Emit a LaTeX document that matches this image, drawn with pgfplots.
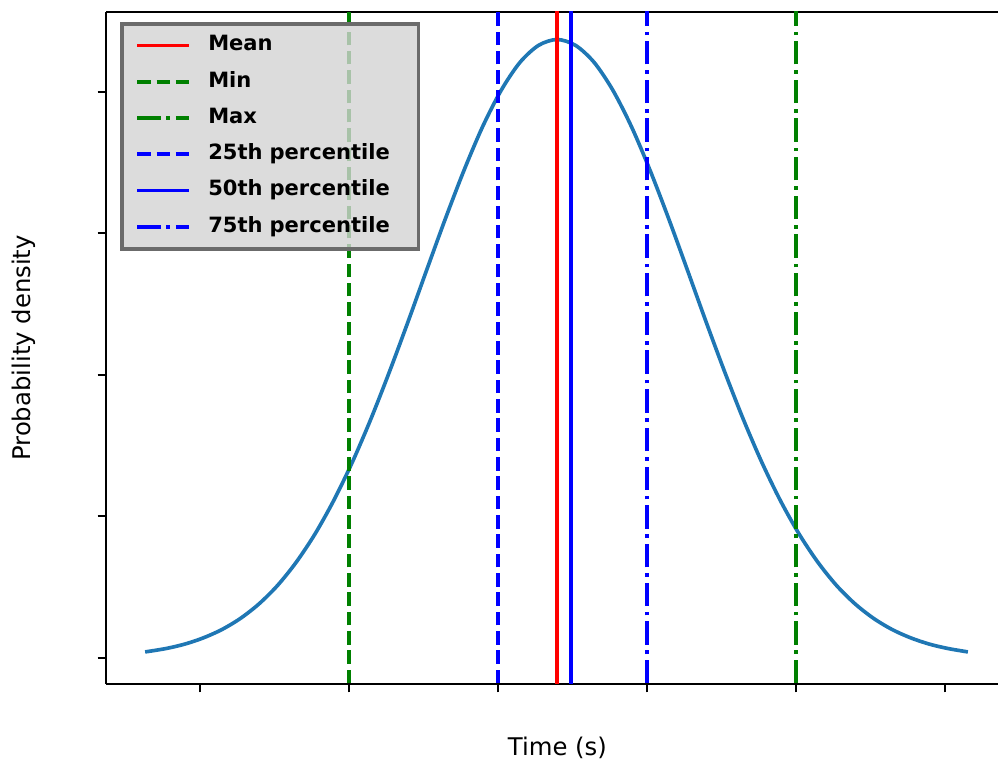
\documentclass[border=0pt]{standalone}
\usepackage{fontspec}
\setmainfont{DejaVu Sans}
\usepackage{pgfplots}
\pgfplotsset{compat=1.18}

\definecolor{mplblue}{HTML}{1F77B4}
\definecolor{mplgreen}{HTML}{008000}
\definecolor{legface}{HTML}{D3D3D3}
\definecolor{legedge}{HTML}{6B6B6B}

\tikzset{
    mpldashed/.style={dash pattern=on 5.55pt off 2.4pt},
    mpldashdot/.style={dash pattern=on 9.6pt off 2.4pt on 1.5pt off 2.4pt}
}

\begin{document}
\begin{tikzpicture}
    \begin{axis}[
        scale only axis,
        width=366.6pt,
        height=276.2pt,
        xmin=0.369, xmax=6.356,
        ymin=-0.184, ymax=4.565,
        axis x line*=box,
        axis y line*=left,
        axis line style={line width=0.8pt, -},
        tick pos=left,
        tick align=outside,
        major tick length=3.5pt,
        every tick/.style={black, line width=0.8pt},
        xtick={1,2,3,4,5,6},
        ytick={0,1,2,3,4},
        xticklabels={},
        yticklabels={},
        xlabel={Time (s)},
        ylabel={Probability density},
        label style={font=\fontsize{10}{12}\selectfont},
        xlabel style={at={(rel axis cs:0.506,-0.095)}, anchor=center},
        ylabel style={at={(rel axis cs:-0.0925,0.5)}, anchor=center},
        legend cell align=left,
        legend image code/.code={\draw[#1] (0pt,0pt) -- (21.4pt,0pt);},
        legend style={
            at={(rel axis cs:0,1)}, anchor=north west,
            xshift=5.8pt, yshift=-4pt,
            fill=legface, fill opacity=0.8, text opacity=1,
            draw=legedge, draw opacity=1, line width=1.6pt,
            font=\fontsize{8.65}{10}\selectfont\bfseries,
            inner xsep=5.4pt, inner ysep=3.2pt,
            row sep=3.3pt,
            nodes={inner sep=2pt, text height=6pt, text depth=1.6pt},
            /tikz/every odd column/.append style={column sep=5pt},
            /tikz/every even column/.append style={text width=79pt}
        }
    ]
        % density curve
        \addplot[mplblue, line width=1.5pt, smooth, forget plot] coordinates {
            (0.631, 0.042) (0.771, 0.066) (0.896, 0.097) (1.021, 0.141)
            (1.146, 0.200) (1.271, 0.279) (1.396, 0.382) (1.521, 0.513)
            (1.646, 0.677) (1.771, 0.875) (1.896, 1.110) (2.021, 1.381)
            (2.146, 1.687) (2.271, 2.022) (2.396, 2.376) (2.521, 2.741)
            (2.646, 3.102) (2.771, 3.444) (2.896, 3.753) (3.021, 4.011)
            (3.146, 4.207) (3.271, 4.328) (3.396, 4.370) (3.521, 4.328)
            (3.646, 4.207) (3.771, 4.011) (3.896, 3.753) (4.021, 3.444)
            (4.146, 3.102) (4.271, 2.741) (4.396, 2.376) (4.521, 2.022)
            (4.646, 1.687) (4.771, 1.381) (4.896, 1.110) (5.021, 0.875)
            (5.146, 0.677) (5.271, 0.513) (5.396, 0.382) (5.521, 0.279)
            (5.646, 0.200) (5.771, 0.141) (5.896, 0.097) (6.021, 0.066)
            (6.154, 0.042)
        };
        % statistics
        \addplot[red, line width=1.5pt] coordinates {(3.396,-1) (3.396,6)};
        \addlegendentry{Mean}
        \addplot[mplgreen, line width=1.5pt, mpldashed] coordinates {(2,-1) (2,6)};
        \addlegendentry{Min}
        \addplot[mplgreen, line width=1.5pt, mpldashdot] coordinates {(5,-1) (5,6)};
        \addlegendentry{Max}
        \addplot[blue, line width=1.5pt, mpldashed] coordinates {(3,-1) (3,6)};
        \addlegendentry{25th percentile}
        \addplot[blue, line width=1.6pt] coordinates {(3.487,-1) (3.487,6)};
        \addlegendentry{50th percentile}
        \addplot[blue, line width=1.5pt, mpldashdot] coordinates {(4,-1) (4,6)};
        \addlegendentry{75th percentile}

        \coordinate (bl) at (rel axis cs:0,0);
        \coordinate (tr) at (rel axis cs:1,1);
    \end{axis}
    \pgfresetboundingbox
    \path ([xshift=-43.6pt, yshift=-32.06pt]bl) rectangle ([yshift=4.9pt]tr);
\end{tikzpicture}
\end{document}
